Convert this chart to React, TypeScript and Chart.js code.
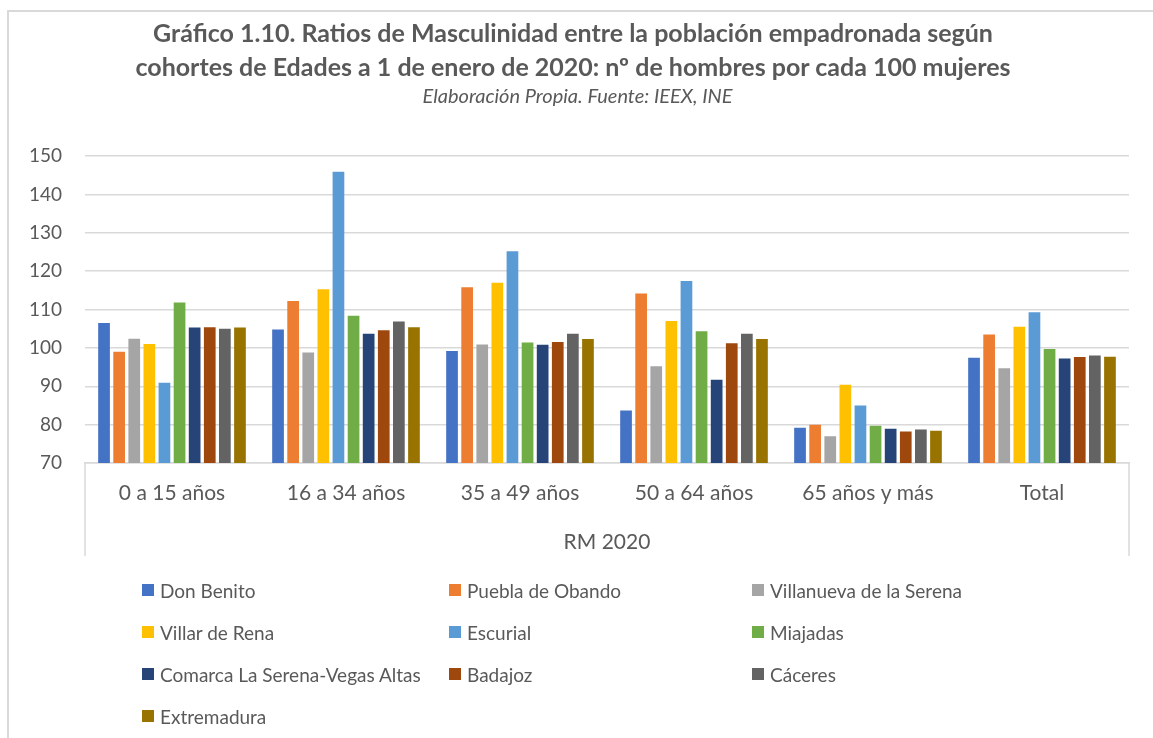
import React, { useEffect, useRef } from "react";
import { Chart, registerables } from "chart.js";

Chart.register(...registerables);

const categories = ["0 a 15 años", "16 a 34 años", "35 a 49 años", "50 a 64 años", "65 años y más", "Total"];
const seriesNames = [
  "Don Benito",
  "Puebla de Obando",
  "Villanueva de la Serena",
  "Villar de Rena",
  "Escurial",
  "Miajadas",
  "Comarca La Serena-Vegas Altas",
  "Badajoz",
  "Cáceres",
  "Extremadura",
];
const seriesColors = ["#4472C4", "#ED7D31", "#A5A5A5", "#FFC000", "#5B9BD5", "#70AD47", "#264478", "#9E480E", "#636363", "#997300"];

const donBenito = [106.5, 104.8, 99.2, 83.7, 79.2, 97.4];
const pueblaDeObando = [99.0, 112.2, 115.8, 114.2, 80.0, 103.5];
const villanueva = [102.4, 98.8, 100.9, 95.2, 77.0, 94.7];
const villarDeRena = [101.0, 115.3, 117.0, 107.0, 90.4, 105.5];
const escurial = [90.9, 145.9, 125.2, 117.4, 85.0, 109.3];
const miajadas = [111.8, 108.4, 101.4, 104.3, 79.7, 99.7];
const comarca = [105.3, 103.7, 100.8, 91.7, 78.9, 97.2];
const badajoz = [105.4, 104.6, 101.5, 101.2, 78.2, 97.6];
const caceres = [105.0, 106.9, 103.7, 103.7, 78.7, 98.0];
const extremadura = [105.3, 105.4, 102.3, 102.3, 78.4, 97.7];

const seriesValues = [donBenito, pueblaDeObando, villanueva, villarDeRena, escurial, miajadas, comarca, badajoz, caceres, extremadura];

const yMin = 70;
const yMax = 150;
const yStep = 10;
const axisTitle = "RM 2020";
const titleLines = [
  "Gráfico 1.10. Ratios de Masculinidad entre la población empadronada según",
  "cohortes de Edades a 1 de enero de 2020: nº de hombres por cada 100 mujeres",
];
const subtitle = "Elaboración Propia. Fuente: IEEX, INE";

const FONT = "Lato, 'Open Sans', sans-serif";
const TEXT = "#595959";
const GRID = "#d9d9d9";

const boxPlugin = {
  id: "axisBox",
  afterDraw(chart: any) {
    const { ctx, chartArea, scales } = chart;
    const xs = scales.x;
    ctx.save();
    ctx.strokeStyle = GRID;
    ctx.lineWidth = 1.5;
    ctx.beginPath();
    ctx.moveTo(chartArea.left, chartArea.bottom);
    ctx.lineTo(chartArea.left, xs.bottom);
    ctx.moveTo(chartArea.right, chartArea.bottom);
    ctx.lineTo(chartArea.right, xs.bottom);
    ctx.stroke();
    ctx.restore();
  },
};

export default function App() {
  const ref = useRef<HTMLCanvasElement>(null);

  useEffect(() => {
    if (!ref.current) return;
    const chart = new Chart(ref.current, {
      type: "bar",
      data: {
        labels: categories,
        datasets: seriesNames.map((name, i) => ({
          label: name,
          data: seriesValues[i],
          backgroundColor: seriesColors[i],
          borderWidth: 0,
          categoryPercentage: 0.868,
          barPercentage: 0.775,
        })),
      },
      options: {
        responsive: false,
        animation: false,
        devicePixelRatio: 1,
        layout: { padding: { top: 156, left: 0, right: 24, bottom: 182 } },
        plugins: {
          legend: { display: false },
          title: { display: false },
          tooltip: { enabled: false },
        },
        scales: {
          x: {
            grid: { display: false, drawTicks: false },
            border: { display: true, color: GRID, width: 1.5 },
            ticks: { color: TEXT, font: { family: FONT, size: 21 }, padding: 18, maxRotation: 0 },
            title: {
              display: true,
              text: axisTitle,
              color: TEXT,
              font: { family: FONT, size: 21 },
              padding: { top: 0, bottom: 1 },
            },
            afterFit(scale: any) {
              scale.height = 93;
            },
          },
          y: {
            min: yMin,
            max: yMax,
            grid: { color: GRID, lineWidth: 1.5, drawTicks: false },
            border: { display: false },
            ticks: { stepSize: yStep, color: TEXT, font: { family: FONT, size: 19 }, padding: 23 },
            afterFit(scale: any) {
              scale.width = 85;
            },
          },
        },
      },
      plugins: [boxPlugin],
    });
    return () => chart.destroy();
  }, []);

  const legendCols = [142, 449, 752];
  const legendRows = [590, 632, 674, 716];

  return (
    <div style={{ position: "absolute", left: 0, top: 0, width: 1153, height: 738, overflow: "hidden", background: "#fff", fontFamily: FONT }}>
      <div style={{ position: "absolute", left: 7, top: 10, width: 1200, height: 800, border: `2px solid ${GRID}`, boxSizing: "border-box" }} />
      <canvas ref={ref} width={1153} height={738} style={{ position: "absolute", left: 0, top: 0, width: 1153, height: 738 }} />
      {titleLines.map((t, i) => (
        <div
          key={i}
          style={{
            position: "absolute",
            left: 0,
            width: 1146,
            top: (i === 0 ? 32 : 66) - 16,
            height: 32,
            lineHeight: "32px",
            textAlign: "center",
            fontWeight: 700,
            fontSize: 25,
            color: TEXT,
            whiteSpace: "nowrap",
          }}
        >
          {t}
        </div>
      ))}
      <div
        style={{
          position: "absolute",
          left: 0,
          width: 1155,
          top: 95 - 14,
          height: 28,
          lineHeight: "28px",
          textAlign: "center",
          fontStyle: "italic",
          fontSize: 20,
          color: TEXT,
          whiteSpace: "nowrap",
        }}
      >
        {subtitle}
      </div>
      {seriesNames.map((name, i) => {
        const col = i % 3;
        const row = Math.floor(i / 3);
        return (
          <div
            key={name}
            style={{
              position: "absolute",
              left: legendCols[col],
              top: legendRows[row] - 12,
              height: 24,
              display: "flex",
              alignItems: "center",
              whiteSpace: "nowrap",
              fontSize: 19,
              color: TEXT,
            }}
          >
            <span style={{ display: "inline-block", width: 12, height: 12, background: seriesColors[i], marginRight: 6 }} />
            <span>{name}</span>
          </div>
        );
      })}
    </div>
  );
}
